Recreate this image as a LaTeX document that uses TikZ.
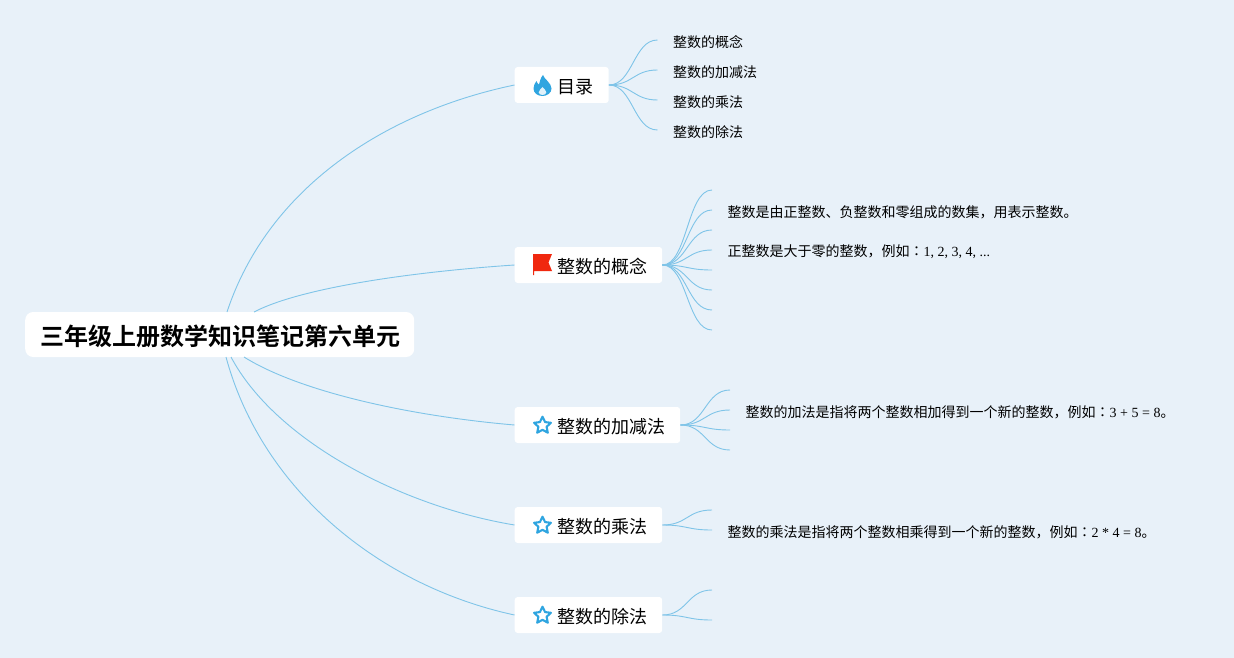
\documentclass[tikz,border=0pt]{standalone}
\usepackage{fontspec}
\setmainfont{Liberation Serif}
\newfontfamily\cjk{Noto Sans CJK SC}
\newfontfamily\cjktc{Noto Sans CJK TC}
\newfontfamily\cjkb{Noto Sans CJK SC Bold}
\definecolor{bgc}{HTML}{E8F1F9}
\definecolor{linec}{HTML}{7FC4E8}
\definecolor{starc}{HTML}{2FA5E0}
\definecolor{flagc}{HTML}{F0280F}
\tikzset{
  x=1pt,y=-1pt,
  rootbox/.style={draw=none,fill=white,rounded corners=8pt,minimum width=389pt,minimum height=45pt,inner sep=0pt,anchor=west},
  roottext/.style={inner sep=0pt,anchor=west,font=\cjkb\fontsize{24}{24}\selectfont},
  branchbox/.style={fill=white,rounded corners=3pt,minimum height=36pt,inner sep=0pt,anchor=west},
  branchtext/.style={font=\cjk\fontsize{18}{18}\selectfont,inner sep=0pt,anchor=west},
  leaf/.style={inner xsep=15.5pt,inner ysep=0pt,anchor=west,font=\cjk\fontsize{14}{14}\selectfont,text=black},
  link/.style={draw=linec,line width=0.9pt},
}
\newcommand{\numtxt}[1]{{\rmfamily #1}}
\newcommand{\tccolon}{{\cjktc ：}}
\newcommand{\starat}[1]{\draw[starc,line width=2.1pt,line join=round,shift={(#1)}]
  (0,-8.3)--(2.6,-2.9)--(8.4,-2.2)--(4.1,1.8)--(5.3,7.7)--(0,4.8)--(-5.3,7.7)--(-4.1,1.8)--(-8.4,-2.2)--(-2.6,-2.9)--cycle;}
\begin{document}
\begin{tikzpicture}
\useasboundingbox (0,0) rectangle (1234,658);
\fill[bgc] (0,0) rectangle (1234,658);
% root
\node[rootbox] (root) at (25,334.5) {};
\node[roottext] (roott) at (40.5,336.5) {三年级上册数学知识笔记第六单元};
\coordinate (rp1) at (227,312);
\coordinate (rp2) at (254,312);
\coordinate (rp3) at (244,357);
\coordinate (rp4) at (231,357);
\coordinate (rp5) at (226,357);
% branches
\node[branchbox,minimum width=94pt] (b1) at (514.5,85) {};
\node[branchbox,minimum width=147.5pt] (b2) at (514.5,265) {};
\node[branchbox,minimum width=165.5pt] (b3) at (514.5,425) {};
\node[branchbox,minimum width=147.5pt] (b4) at (514.5,525) {};
\node[branchbox,minimum width=147.5pt] (b5) at (514.5,615) {};
\node[branchtext] (t1) at (557.5,87) {目录};
\node[branchtext] (t2) at (557.5,267) {整数的概念};
\node[branchtext] (t3) at (557.5,427) {整数的加减法};
\node[branchtext] (t4) at (557.5,527) {整数的乘法};
\node[branchtext] (t5) at (557.5,617) {整数的除法};
% root links
\draw[link] (rp1) .. controls (268,188) and (385,112) .. (b1.west);
\draw[link] (rp2) .. controls (300,288) and (410,272) .. (b2.west);
\draw[link] (rp3) .. controls (300,392) and (410,416) .. (b3.west);
\draw[link] (rp4) .. controls (275,440) and (400,506) .. (b4.west);
\draw[link] (rp5) .. controls (262,490) and (380,586) .. (b5.west);
% leaves b1
\node[leaf] (l11) at (657.5,42) {整数的概念};
\node[leaf] (l12) at (657.5,72) {整数的加减法};
\node[leaf] (l13) at (657.5,102) {整数的乘法};
\node[leaf] (l14) at (657.5,132) {整数的除法};
\foreach \n in {l11,l12,l13,l14}
  \draw[link] (b1.east) .. controls +(24,0) and +(-24,0) .. ([yshift=2pt]\n.west);
% leaves b2
\node[leaf] (l22) at (712,212) {整数是由正整数、负整数和零组成的数集，用表示整数。};
\node[leaf] (l24) at (712,252) {正整数是大于零的整数，例如\tccolon\numtxt{1, 2, 3, 4, ...}};
\coordinate (l21) at (712,190);
\coordinate (l23) at (712,230);
\coordinate (l25) at (712,270);
\coordinate (l26) at (712,290);
\coordinate (l27) at (712,310);
\coordinate (l28) at (712,330);
\foreach \n in {l21,l23,l25,l26,l27,l28}
  \draw[link] (b2.east) .. controls +(25,0) and +(-25,0) .. (\n);
\foreach \n in {l22,l24}
  \draw[link] (b2.east) .. controls +(25,0) and +(-25,0) .. ([yshift=2pt]\n.west);
% leaves b3
\node[leaf] (l32) at (730,412) {整数的加法是指将两个整数相加得到一个新的整数，例如\tccolon\numtxt{3 + 5 = 8}。};
\coordinate (l31) at (730,390);
\coordinate (l33) at (730,430);
\coordinate (l34) at (730,450);
\foreach \n in {l31,l33,l34}
  \draw[link] (b3.east) .. controls +(25,0) and +(-25,0) .. (\n);
\draw[link] (b3.east) .. controls +(25,0) and +(-25,0) .. ([yshift=2pt]l32.west);
% leaves b4
\node[leaf] (l42) at (712,532) {整数的乘法是指将两个整数相乘得到一个新的整数，例如\tccolon\numtxt{2 * 4 = 8}。};
\coordinate (l41) at (712,510);
\draw[link] (b4.east) .. controls +(25,0) and +(-25,0) .. (l41);
\draw[link] (b4.east) .. controls +(25,0) and +(-25,0) .. ([yshift=2pt]l42.west);
% leaves b5
\coordinate (l51) at (712,590);
\coordinate (l52) at (712,620);
\draw[link] (b5.east) .. controls +(25,0) and +(-25,0) .. (l51);
\draw[link] (b5.east) .. controls +(25,0) and +(-25,0) .. (l52);
% icons
\fill[starc] (543,75) .. controls (544,79) and (551.5,83) .. (551.5,88.5) .. controls (551.5,93) and (547,96) .. (542.5,96)
  .. controls (537.5,96) and (533.5,93) .. (533.5,88.5) .. controls (533.5,85.5) and (535,83) .. (536.5,81)
  .. controls (537,83) and (538,84) .. (539,84.5) .. controls (540,81) and (540.5,78) .. (543,75) -- cycle;
\fill[white!85!starc] (542.5,87) .. controls (544,89) and (546.3,90.5) .. (546.3,92.3) .. controls (546.3,94) and (544.5,95) .. (542.5,95) .. controls (540.5,95) and (538.7,94) .. (538.7,92.3) .. controls (538.7,90.5) and (541,89) .. (542.5,87) -- cycle;
\fill[flagc] (533,254) -- (552,254) -- (548.5,262.5) -- (552,271) -- (534,271) -- (534,275) -- (533,275) -- cycle;
\starat{542.5,425}
\starat{542.5,525}
\starat{542.5,615}
\end{tikzpicture}
\end{document}
